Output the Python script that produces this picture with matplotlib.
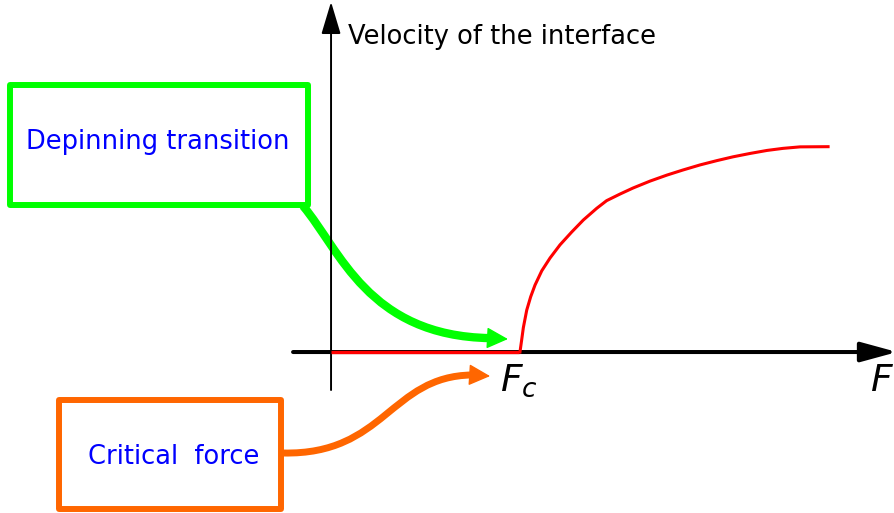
import matplotlib
matplotlib.use('Agg')
import matplotlib.pyplot as plt
from matplotlib.patches import Rectangle, PathPatch
from matplotlib.path import Path

# critical force (units chosen so that F_c = 1)
F_c = 1.0

# pinned phase: the interface does not move below F_c
pinned_force = [0.0, F_c]
pinned_velocity = [0.0, 0.0]

# depinned phase
moving_force = [1.005, 1.014, 1.023, 1.041, 1.062, 1.085, 1.121, 1.165,
                1.218, 1.280, 1.342, 1.413, 1.466, 1.537, 1.606, 1.697,
                1.787, 1.872, 1.963, 2.053, 2.138, 2.229, 2.319, 2.404,
                2.495, 2.644]
moving_velocity = [0.0, 0.064, 0.130, 0.223, 0.294, 0.356, 0.432, 0.500,
                   0.570, 0.638, 0.702, 0.764, 0.805, 0.840, 0.872, 0.909,
                   0.941, 0.968, 0.995, 1.018, 1.038, 1.056, 1.072, 1.083,
                   1.091, 1.092]

y_label = 'Velocity of the interface'
box_labels = ['Depinning transition', 'Critical  force']

GREEN = '#00ff00'
ORANGE = '#ff6600'
BLUE = '#0000ff'
RED = '#ff0000'

fig = plt.figure(figsize=(8.95, 5.13), dpi=100)
ax = fig.add_axes([0, 0, 1, 1])
ax.set_xlim(-1.761, 3.0)
ax.set_ylim(-0.856, 1.872)
ax.set_axis_off()

# axes with arrow heads
ax.annotate('', xy=(3.011, 0), xytext=(-0.202, 0), annotation_clip=False,
            arrowprops=dict(arrowstyle='-|>,head_length=1.1,head_width=0.3',
                            mutation_scale=20, lw=2.9, color='black',
                            shrinkA=0, shrinkB=0))
ax.annotate('', xy=(0, 1.862), xytext=(0, -0.202), annotation_clip=False,
            arrowprops=dict(arrowstyle='-|>,head_length=1.0,head_width=0.3',
                            mutation_scale=20, lw=1.4, color='black',
                            shrinkA=0, shrinkB=0))

# velocity curve
ax.plot(pinned_force, pinned_velocity, color=RED, lw=2.4, solid_capstyle='butt', zorder=3)
ax.plot(moving_force, moving_velocity, color=RED, lw=2.2, zorder=3,
        solid_joinstyle='round')

ax.text(0.09, 1.676, y_label, fontsize=18.5, color='black', ha='left', va='center')
ax.text(0.899, -0.053, r'$F_c$', fontsize=27, ha='left', va='top')
ax.text(2.867, -0.059, r'$F$', fontsize=27, ha='left', va='top')

# callout boxes
ax.add_patch(Rectangle((-1.707, 0.782), 1.585, 0.636, fill=False,
                       ec=GREEN, lw=4.3, joinstyle='round'))
ax.text(-0.92, 1.117, box_labels[0], fontsize=18.5, color=BLUE, ha='center', va='center')

ax.add_patch(Rectangle((-1.447, -0.835), 1.181, 0.58, fill=False,
                       ec=ORANGE, lw=4.3, joinstyle='round'))
ax.text(-0.835, -0.559, box_labels[1], fontsize=18.5, color=BLUE, ha='center', va='center')


def curved_arrow(pts, tip, color, lw):
    # shaft as a cubic bezier, head as a small filled triangle
    codes = [Path.MOVETO, Path.CURVE4, Path.CURVE4, Path.CURVE4]
    ax.add_patch(PathPatch(Path(pts, codes), fill=False, ec=color, lw=lw,
                           capstyle='butt'))
    ax.annotate('', xy=tip, xytext=pts[-1],
                arrowprops=dict(arrowstyle='-|>,head_length=0.9,head_width=0.45',
                                mutation_scale=15, lw=1, color=color,
                                shrinkA=0, shrinkB=0))


curved_arrow([(-0.149, 0.777), (0.048, 0.543), (0.197, 0.085), (0.846, 0.074)],
             (0.941, 0.069), GREEN, 6.0)
curved_arrow([(-0.255, -0.537), (0.287, -0.548), (0.314, -0.128), (0.750, -0.122)],
             (0.846, -0.128), ORANGE, 5.0)

fig.savefig('out.png', dpi=100)
